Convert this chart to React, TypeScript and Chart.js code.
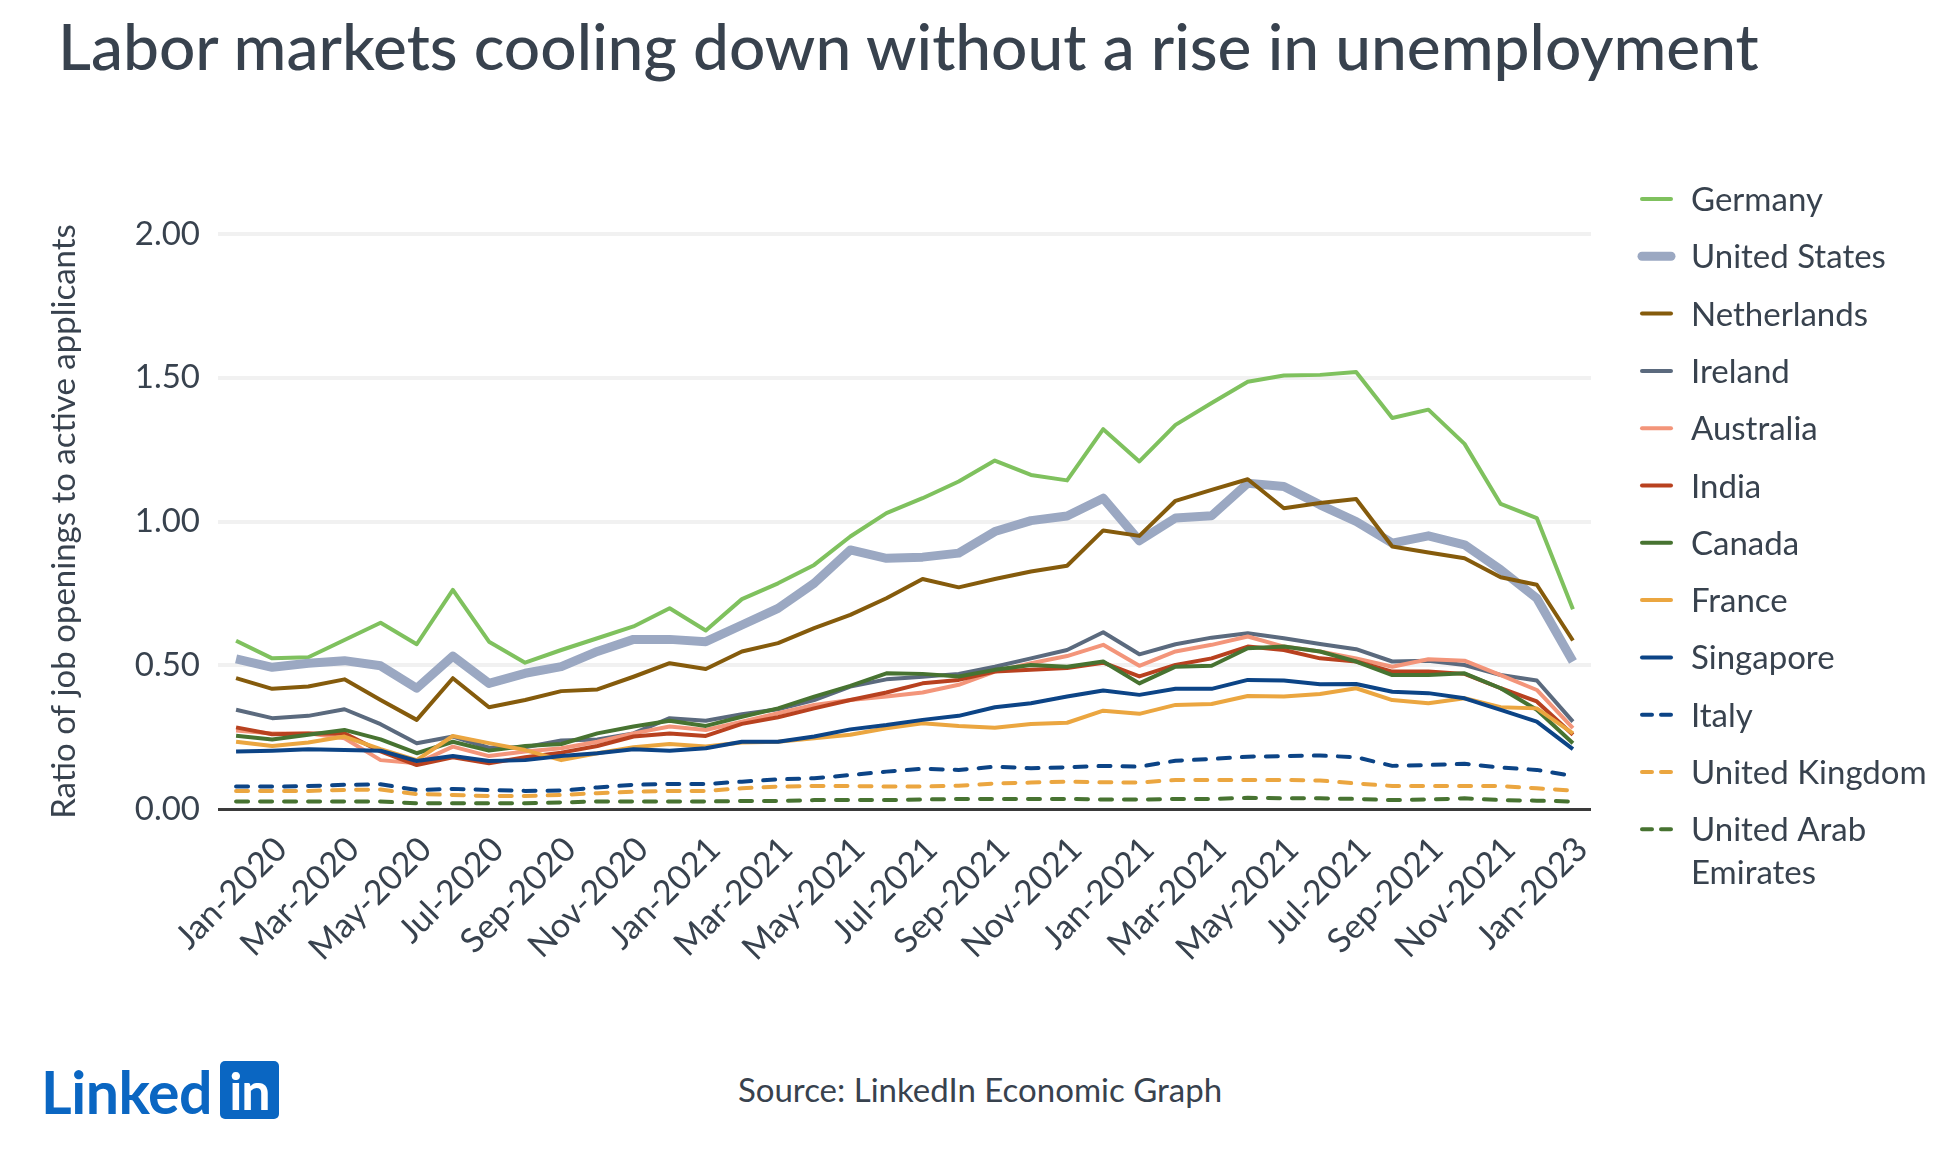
import React, { useEffect, useRef } from 'react';
import { Chart, registerables } from 'chart.js';

Chart.register(...registerables);

// ---------- data ----------
const categories = [
  'Dec-2019', 'Jan-2020', 'Feb-2020', 'Mar-2020', 'Apr-2020', 'May-2020', 'Jun-2020', 'Jul-2020',
  'Aug-2020', 'Sep-2020', 'Oct-2020', 'Nov-2020', 'Dec-2020', 'Jan-2021', 'Feb-2021', 'Mar-2021',
  'Apr-2021', 'May-2021', 'Jun-2021', 'Jul-2021', 'Aug-2021', 'Sep-2021', 'Oct-2021', 'Nov-2021',
  'Dec-2021', 'Jan-2022', 'Feb-2022', 'Mar-2022', 'Apr-2022', 'May-2022', 'Jun-2022', 'Jul-2022',
  'Aug-2022', 'Sep-2022', 'Oct-2022', 'Nov-2022', 'Dec-2022', 'Jan-2023',
];

// tick labels exactly as printed on the reference (every second month)
const tickLabels = [
  'Jan-2020', 'Mar-2020', 'May-2020', 'Jul-2020', 'Sep-2020', 'Nov-2020', 'Jan-2021', 'Mar-2021',
  'May-2021', 'Jul-2021', 'Sep-2021', 'Nov-2021', 'Jan-2021', 'Mar-2021', 'May-2021', 'Jul-2021',
  'Sep-2021', 'Nov-2021', 'Jan-2023',
];

const germany = [0.585, 0.524, 0.528, 0.588, 0.648, 0.573, 0.762, 0.582, 0.509, 0.553, 0.594, 0.635, 0.698, 0.621, 0.73, 0.785, 0.849, 0.948, 1.029, 1.081, 1.139, 1.212, 1.162, 1.143, 1.321, 1.209, 1.336, 1.412, 1.486, 1.508, 1.51, 1.52, 1.36, 1.389, 1.27, 1.061, 1.012, 0.695];
const unitedStates = [0.522, 0.493, 0.507, 0.516, 0.498, 0.42, 0.532, 0.437, 0.472, 0.495, 0.548, 0.59, 0.59, 0.582, 0.64, 0.698, 0.785, 0.901, 0.872, 0.876, 0.89, 0.965, 1.003, 1.019, 1.081, 0.933, 1.012, 1.02, 1.133, 1.122, 1.058, 1.0, 0.925, 0.95, 0.919, 0.832, 0.733, 0.513];
const netherlands = [0.455, 0.418, 0.426, 0.451, 0.379, 0.31, 0.455, 0.354, 0.379, 0.41, 0.416, 0.46, 0.507, 0.487, 0.548, 0.577, 0.629, 0.675, 0.733, 0.8, 0.771, 0.8, 0.826, 0.846, 0.969, 0.95, 1.072, 1.11, 1.147, 1.046, 1.064, 1.078, 0.913, 0.892, 0.872, 0.806, 0.78, 0.586];
const ireland = [0.345, 0.316, 0.324, 0.347, 0.295, 0.229, 0.252, 0.213, 0.215, 0.238, 0.242, 0.263, 0.316, 0.307, 0.33, 0.347, 0.379, 0.426, 0.451, 0.46, 0.47, 0.495, 0.524, 0.553, 0.615, 0.538, 0.573, 0.596, 0.611, 0.594, 0.574, 0.556, 0.513, 0.516, 0.501, 0.466, 0.447, 0.304];
const australia = [0.273, 0.263, 0.263, 0.246, 0.17, 0.159, 0.217, 0.184, 0.2, 0.211, 0.234, 0.263, 0.287, 0.275, 0.304, 0.333, 0.362, 0.379, 0.391, 0.405, 0.432, 0.478, 0.507, 0.532, 0.571, 0.498, 0.548, 0.571, 0.6, 0.565, 0.548, 0.524, 0.495, 0.521, 0.516, 0.466, 0.414, 0.281];
const india = [0.284, 0.26, 0.263, 0.263, 0.2, 0.153, 0.18, 0.159, 0.18, 0.196, 0.219, 0.252, 0.263, 0.254, 0.296, 0.319, 0.35, 0.379, 0.405, 0.437, 0.449, 0.478, 0.484, 0.49, 0.509, 0.461, 0.501, 0.524, 0.565, 0.553, 0.524, 0.513, 0.478, 0.478, 0.47, 0.42, 0.374, 0.258];
const canada = [0.255, 0.242, 0.258, 0.275, 0.242, 0.194, 0.234, 0.203, 0.219, 0.226, 0.263, 0.287, 0.307, 0.289, 0.321, 0.35, 0.391, 0.428, 0.472, 0.47, 0.461, 0.484, 0.501, 0.495, 0.513, 0.437, 0.495, 0.498, 0.559, 0.565, 0.548, 0.513, 0.466, 0.466, 0.472, 0.42, 0.345, 0.229];
const france = [0.234, 0.219, 0.231, 0.252, 0.208, 0.17, 0.254, 0.229, 0.205, 0.17, 0.194, 0.215, 0.226, 0.217, 0.231, 0.234, 0.246, 0.258, 0.281, 0.298, 0.289, 0.283, 0.296, 0.3, 0.342, 0.331, 0.362, 0.365, 0.393, 0.391, 0.4, 0.42, 0.379, 0.368, 0.385, 0.354, 0.35, 0.263];
const singapore = [0.2, 0.203, 0.208, 0.205, 0.203, 0.167, 0.184, 0.167, 0.17, 0.184, 0.194, 0.208, 0.203, 0.211, 0.234, 0.234, 0.252, 0.277, 0.292, 0.31, 0.324, 0.354, 0.368, 0.391, 0.412, 0.397, 0.418, 0.418, 0.449, 0.447, 0.434, 0.435, 0.408, 0.403, 0.385, 0.345, 0.304, 0.208];
const italy = [0.078, 0.078, 0.08, 0.084, 0.086, 0.066, 0.07, 0.066, 0.063, 0.064, 0.075, 0.084, 0.087, 0.087, 0.095, 0.103, 0.107, 0.118, 0.13, 0.14, 0.136, 0.147, 0.142, 0.145, 0.15, 0.147, 0.168, 0.174, 0.182, 0.184, 0.186, 0.18, 0.15, 0.153, 0.157, 0.144, 0.136, 0.115];
const unitedKingdom = [0.063, 0.063, 0.063, 0.066, 0.068, 0.052, 0.049, 0.045, 0.045, 0.049, 0.055, 0.06, 0.063, 0.063, 0.072, 0.078, 0.08, 0.08, 0.078, 0.078, 0.081, 0.089, 0.092, 0.095, 0.093, 0.092, 0.101, 0.101, 0.101, 0.101, 0.099, 0.089, 0.08, 0.08, 0.08, 0.08, 0.072, 0.064];
const uae = [0.026, 0.026, 0.026, 0.026, 0.026, 0.02, 0.02, 0.02, 0.02, 0.023, 0.026, 0.026, 0.026, 0.026, 0.028, 0.028, 0.031, 0.031, 0.031, 0.033, 0.035, 0.035, 0.035, 0.035, 0.033, 0.033, 0.035, 0.035, 0.039, 0.037, 0.037, 0.035, 0.031, 0.033, 0.037, 0.031, 0.029, 0.026];

const seriesNames = [
  'Germany', 'United States', 'Netherlands', 'Ireland', 'Australia', 'India',
  'Canada', 'France', 'Singapore', 'Italy', 'United Kingdom', 'United Arab Emirates',
];
const seriesValues = [
  germany, unitedStates, netherlands, ireland, australia, india,
  canada, france, singapore, italy, unitedKingdom, uae,
];
const legendLines = [
  ['Germany'], ['United States'], ['Netherlands'], ['Ireland'], ['Australia'], ['India'],
  ['Canada'], ['France'], ['Singapore'], ['Italy'], ['United Kingdom'], ['United Arab', 'Emirates'],
];

const yTicks = [0, 0.5, 1, 1.5, 2];

// ---------- styles ----------
const seriesStyles = [
  { color: '#7fc15e', width: 4, dashed: false },
  { color: '#9ba8c2', width: 9, dashed: false },
  { color: '#855b0c', width: 4, dashed: false },
  { color: '#5b6a7e', width: 4, dashed: false },
  { color: '#f3957a', width: 4, dashed: false },
  { color: '#b8411f', width: 4, dashed: false },
  { color: '#477331', width: 4, dashed: false },
  { color: '#eba640', width: 4, dashed: false },
  { color: '#0c4486', width: 4, dashed: false },
  { color: '#0c4486', width: 4, dashed: true },
  { color: '#eba640', width: 4, dashed: true },
  { color: '#477331', width: 4, dashed: true },
];

const TEXT = '#38424e';
const FONT = 'Lato, "Noto Sans", sans-serif';

const sideLegend = {
  id: 'sideLegend',
  afterDraw(chart: any) {
    const { ctx, chartArea } = chart;
    const x0 = chartArea.right + 51;
    const x1 = chartArea.right + 80;
    const textX = chartArea.right + 100;
    const rowH = 57.3;
    const top = chartArea.top - 35;
    ctx.save();
    chart.data.datasets.forEach((ds: any, i: number) => {
      const y = top + i * rowH;
      ctx.strokeStyle = ds.borderColor;
      ctx.lineWidth = ds.borderWidth;
      ctx.lineCap = 'round';
      ctx.setLineDash([]);
      ctx.beginPath();
      if (ds.borderDash && ds.borderDash.length) {
        ctx.moveTo(x0, y);
        ctx.lineTo(x0 + 10, y);
        ctx.moveTo(x1 - 10, y);
        ctx.lineTo(x1, y);
      } else {
        ctx.moveTo(x0, y);
        ctx.lineTo(x1, y);
      }
      ctx.stroke();
      ctx.fillStyle = TEXT;
      ctx.font = `33px ${FONT}`;
      ctx.textAlign = 'left';
      ctx.textBaseline = 'alphabetic';
      legendLines[i].forEach((line, k) => {
        ctx.fillText(line, textX, y + 12 + k * 42.5);
      });
    });
    ctx.restore();
  },
};

export default function App() {
  const ref = useRef<HTMLCanvasElement>(null);

  useEffect(() => {
    const n = seriesNames.length;
    const chart = new Chart(ref.current as HTMLCanvasElement, {
      type: 'line',
      data: {
        labels: categories,
        datasets: seriesNames.map((name, i) => ({
          label: name,
          data: seriesValues[i],
          borderColor: seriesStyles[i].color,
          backgroundColor: seriesStyles[i].color,
          borderWidth: seriesStyles[i].width,
          borderDash: seriesStyles[i].dashed ? [12, 12] : [],
          borderCapStyle: seriesStyles[i].dashed ? 'round' : 'butt',
          borderJoinStyle: 'round',
          pointRadius: 0,
          pointHoverRadius: 0,
          tension: 0,
          fill: false,
          order: n - i,
        })),
      },
      options: {
        animation: false,
        responsive: false,
        devicePixelRatio: 1,
        layout: { padding: { left: 0, right: 366, top: 84, bottom: 0 } },
        plugins: {
          legend: { display: false },
          tooltip: { enabled: false },
        },
        scales: {
          x: {
            type: 'category',
            offset: true,
            grid: { display: false, drawTicks: false },
            border: { display: false },
            ticks: {
              autoSkip: false,
              minRotation: 45,
              maxRotation: 45,
              padding: 20,
              labelOffset: 9,
              color: TEXT,
              font: { family: FONT, size: 34 },
              callback: (_v: any, idx: number) => (idx % 2 === 1 ? tickLabels[(idx - 1) / 2] : ''),
            },
            afterFit: (scale: any) => { scale.height = 191; },
          },
          y: {
            min: yTicks[0],
            max: yTicks[yTicks.length - 1],
            afterBuildTicks: (scale: any) => { scale.ticks = yTicks.map((v) => ({ value: v })); },
            border: { display: false },
            grid: {
              drawTicks: false,
              color: (c: any) => (c.tick && c.tick.value === 0 ? '#3a3a3a' : '#f1f1f1'),
              lineWidth: (c: any) => (c.tick && c.tick.value === 0 ? 3 : 4),
            },
            ticks: {
              padding: 18,
              color: TEXT,
              font: { family: FONT, size: 33 },
              callback: (v: any) => Number(v).toFixed(2),
            },
            title: {
              display: true,
              text: 'Ratio of job openings to active applicants',
              color: TEXT,
              font: { family: FONT, size: 33 },
              padding: { top: 45, bottom: 0 },
            },
            afterFit: (scale: any) => { scale.width = 218; },
          },
        },
      },
      plugins: [sideLegend],
    } as any);
    return () => chart.destroy();
  }, []);

  return (
    <div style={{ position: 'absolute', left: 0, top: 0, width: 1957, height: 1164, background: '#fff', overflow: 'hidden', fontFamily: FONT }}>
      <div style={{ position: 'absolute', left: 58, top: 14, fontSize: 64, lineHeight: 1, fontWeight: 500, color: TEXT, whiteSpace: 'nowrap' }}>
        Labor markets cooling down without a rise in unemployment
      </div>
      <canvas ref={ref} width={1957} height={850} style={{ position: 'absolute', left: 0, top: 150, width: 1957, height: 850 }} />
      <div style={{ position: 'absolute', left: 0, width: 1960, top: 1073, fontSize: 33, lineHeight: 1, color: TEXT, textAlign: 'center', whiteSpace: 'nowrap' }}>
        Source: LinkedIn Economic Graph
      </div>
      <div style={{ position: 'absolute', left: 41, top: 1061, height: 60, display: 'flex', alignItems: 'flex-start' }}>
        <span style={{ fontSize: 59, lineHeight: 1, fontWeight: 700, color: '#0a66c2', letterSpacing: -0.5, marginTop: 1 }}>Linked</span>
        <span style={{ marginLeft: 8, width: 59, height: 58, borderRadius: 5, background: '#0a66c2', color: '#fff', fontSize: 52, fontWeight: 700, lineHeight: '58px', textAlign: 'center', letterSpacing: -1 }}>in</span>
      </div>
    </div>
  );
}
